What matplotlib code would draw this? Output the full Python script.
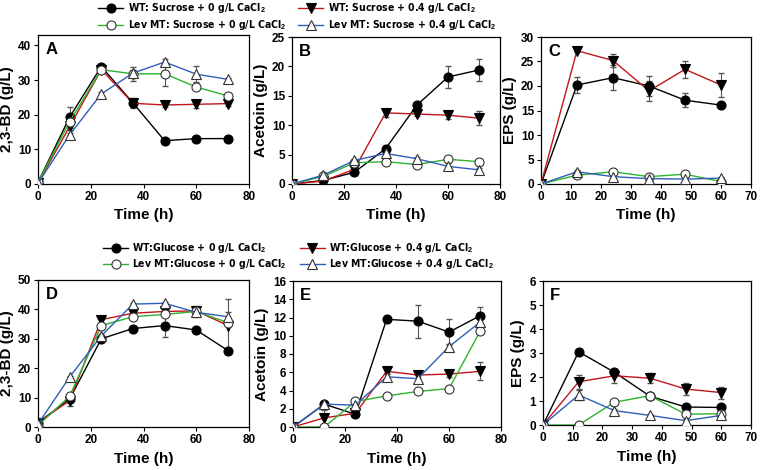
import numpy as np
import matplotlib
matplotlib.use("Agg")
import matplotlib.pyplot as plt
from matplotlib.font_manager import FontProperties

plt.rcParams['font.family'] = ['Liberation Sans', 'DejaVu Sans']
plt.rcParams['font.weight'] = 'bold'
plt.rcParams['mathtext.fontset'] = 'custom'
plt.rcParams['mathtext.rm'] = 'Liberation Sans:bold'
plt.rcParams['mathtext.bf'] = 'Liberation Sans:bold'

# time points
t72 = [0, 12, 24, 36, 48, 60, 72]
t60 = [0, 12, 24, 36, 48, 60]

# A: 2,3-BD sucrose
a_wt0 = [0.5, 19.3, 33.9, 23.4, 12.5, 13.1, 13.1]
a_wt0_err = [0, 3.0, 0.5, 1.5, 0.5, 0.5, 0.5]
a_wt4 = [0.3, 16.6, 33.0, 23.3, 22.8, 23.0, 23.2]
a_wt4_err = [0, 1.0, 0.5, 1.0, 0.7, 1.2, 0.7]
a_lev0 = [0.5, 18.0, 33.0, 31.8, 31.8, 28.0, 25.4]
a_lev0_err = [0, 1.5, 0.5, 2.0, 3.5, 1.0, 0.8]
a_lev4 = [0.2, 14.2, 26.0, 32.0, 35.2, 31.7, 30.2]
a_lev4_err = [0, 0.5, 0.5, 1.0, 1.0, 2.3, 0.5]

# B: acetoin sucrose
b_wt0 = [0, 0.6, 2.0, 6.0, 13.4, 18.2, 19.4]
b_wt0_err = [0, 0.2, 0.3, 0.5, 0.5, 1.8, 1.8]
b_wt4 = [0, 0.5, 2.5, 12.1, 11.9, 11.7, 11.2]
b_wt4_err = [0, 0.2, 0.3, 0.7, 0.4, 0.6, 1.2]
b_lev0 = [0, 1.3, 3.6, 3.8, 3.3, 4.2, 3.8]
b_lev0_err = [0, 0.2, 0.3, 0.3, 0.3, 0.3, 0.3]
b_lev4 = [0, 1.5, 4.0, 5.2, 4.3, 3.0, 2.4]
b_lev4_err = [0, 0.2, 0.3, 0.3, 0.3, 0.5, 0.3]

# C: EPS sucrose
c_wt0 = [0, 20.2, 21.7, 20.0, 17.1, 16.1]
c_wt0_err = [0, 1.6, 2.5, 2.0, 1.4, 0.5]
c_wt4 = [0, 27.2, 25.2, 19.0, 23.4, 20.2]
c_wt4_err = [0, 0.3, 1.4, 2.0, 1.8, 2.4]
c_lev0 = [0, 1.8, 2.5, 1.5, 2.0, 0.5]
c_lev0_err = [0, 0.3, 0.3, 0.3, 0.3, 0.2]
c_lev4 = [0, 2.5, 1.5, 1.1, 1.0, 1.2]
c_lev4_err = [0, 0.3, 0.3, 0.2, 0.2, 0.2]

# D: 2,3-BD glucose
d_wt0 = [1.5, 9.5, 30.0, 33.5, 34.5, 33.0, 26.0]
d_wt0_err = [0, 1.0, 1.0, 1.0, 4.0, 1.0, 1.0]
d_wt4 = [1.5, 9.0, 36.5, 38.7, 39.3, 39.5, 34.5]
d_wt4_err = [0, 2.0, 1.0, 1.0, 1.0, 1.5, 9.0]
d_lev0 = [0.5, 10.5, 34.5, 37.5, 38.3, 39.3, 35.5]
d_lev0_err = [0, 1.0, 1.0, 1.0, 1.0, 1.0, 1.0]
d_lev4 = [1.0, 17.0, 31.0, 41.8, 42.1, 39.0, 37.5]
d_lev4_err = [0, 0.5, 0.5, 0.5, 0.5, 1.5, 1.5]

# E: acetoin glucose
e_wt0 = [0, 2.5, 1.4, 11.8, 11.6, 10.4, 12.2]
e_wt0_err = [0, 0.2, 0.3, 0.3, 1.8, 1.4, 1.0]
e_wt4 = [0, 1.0, 1.5, 6.1, 5.7, 5.8, 6.1]
e_wt4_err = [0, 0.9, 0.2, 0.3, 0.3, 0.3, 1.0]
e_lev0 = [0, 0, 2.8, 3.4, 3.9, 4.2, 10.5]
e_lev0_err = [0, 0, 0.2, 0.2, 0.2, 0.2, 0.3]
e_lev4 = [0, 2.5, 2.4, 5.5, 5.3, 8.8, 11.5]
e_lev4_err = [0, 0.2, 0.2, 0.3, 0.4, 0.3, 0.4]

# F: EPS glucose
f_wt0 = [0, 3.05, 2.2, 1.2, 0.75, 0.73]
f_wt0_err = [0, 0.1, 0.15, 0.1, 0.05, 0.05]
f_wt4 = [0, 1.8, 2.05, 1.95, 1.5, 1.35]
f_wt4_err = [0, 0.3, 0.3, 0.2, 0.25, 0.25]
f_lev0 = [0, 0, 0.95, 1.22, 0.45, 0.47]
f_lev0_err = [0, 0, 0.05, 0.05, 0.05, 0.05]
f_lev4 = [0, 1.25, 0.6, 0.4, 0.18, 0.4]
f_lev4_err = [0, 0.2, 0.05, 0.05, 0.05, 0.05]

sucrose_labels = ['WT: Sucrose + 0 g/L CaCl$_2$', 'WT: Sucrose + 0.4 g/L CaCl$_2$',
                  'Lev MT: Sucrose + 0 g/L CaCl$_2$', 'Lev MT: Sucrose + 0.4 g/L CaCl$_2$']
glucose_labels = ['WT:Glucose + 0 g/L CaCl$_2$', 'WT:Glucose + 0.4 g/L CaCl$_2$',
                  'Lev MT:Glucose + 0 g/L CaCl$_2$', 'Lev MT:Glucose + 0.4 g/L CaCl$_2$']

styles = [
    dict(color='black', marker='o', mfc='black', mec='black'),
    dict(color='#c0161b', marker='v', mfc='black', mec='black'),
    dict(color='#2db32d', marker='o', mfc='white', mec='#333333'),
    dict(color='#2f5fb8', marker='^', mfc='white', mec='#333333'),
]

W, H = 760, 470


def rect(l, t, r, b):
    return [l / W, 1 - b / H, (r - l) / W, (b - t) / H]


fig = plt.figure(figsize=(7.6, 4.7), dpi=100)

panels = [
    ('A', rect(38, 35, 249, 184), t72, [(a_wt0, a_wt0_err), (a_wt4, a_wt4_err), (a_lev0, a_lev0_err), (a_lev4, a_lev4_err)],
     '2,3-BD (g/L)', (0, 80, 20), (0, 43, 10, 40)),
    ('B', rect(292, 37, 500, 184), t72, [(b_wt0, b_wt0_err), (b_wt4, b_wt4_err), (b_lev0, b_lev0_err), (b_lev4, b_lev4_err)],
     'Acetoin (g/L)', (0, 80, 20), (0, 25, 5, 25)),
    ('C', rect(541, 37, 751, 184), t60, [(c_wt0, c_wt0_err), (c_wt4, c_wt4_err), (c_lev0, c_lev0_err), (c_lev4, c_lev4_err)],
     'EPS (g/L)', (0, 70, 10), (0, 30, 5, 30)),
    ('D', rect(38, 280, 249, 427), t72, [(d_wt0, d_wt0_err), (d_wt4, d_wt4_err), (d_lev0, d_lev0_err), (d_lev4, d_lev4_err)],
     '2,3-BD (g/L)', (0, 80, 20), (0, 50, 10, 50)),
    ('E', rect(293, 281, 501, 427), t72, [(e_wt0, e_wt0_err), (e_wt4, e_wt4_err), (e_lev0, e_lev0_err), (e_lev4, e_lev4_err)],
     'Acetoin (g/L)', (0, 80, 20), (0, 16, 2, 16)),
    ('F', rect(543, 281, 751, 425), t60, [(f_wt0, f_wt0_err), (f_wt4, f_wt4_err), (f_lev0, f_lev0_err), (f_lev4, f_lev4_err)],
     'EPS (g/L)', (0, 70, 10), (0, 6, 1, 6)),
]

handles = {}
for letter, pos, t, series, ylab, xr, yr in panels:
    ax = fig.add_axes(pos)
    hs = []
    for (vals, errs), st in zip(series, styles):
        ax.errorbar(t, vals, yerr=errs, fmt='none', ecolor='#555555', elinewidth=0.8, capsize=2, zorder=2)
        h, = ax.plot(t, vals, color=st['color'], lw=1.0, marker=st['marker'], ms=6.5,
                     mfc=st['mfc'], mec=st['mec'], mew=0.8, zorder=3)
        hs.append(h)
    handles[letter] = hs
    ax.set_xlim(xr[0], xr[1])
    ax.set_ylim(yr[0], yr[1])
    ax.set_xticks(np.arange(xr[0], xr[1] + 0.1, xr[2]))
    ax.set_yticks(np.arange(yr[0], yr[3] + 0.01, yr[2]))
    ax.tick_params(direction='out', length=3, width=0.8, labelsize=8.5, pad=2)
    for lab in ax.get_xticklabels() + ax.get_yticklabels():
        lab.set_fontweight('bold')
    for sp in ax.spines.values():
        sp.set_linewidth(0.9)
    ax.set_xlabel('Time (h)', fontsize=11, fontweight='bold', labelpad=4)
    ax.set_ylabel(ylab, fontsize=11, fontweight='bold', labelpad=3)
    ax.text(0.035, 0.95, letter, transform=ax.transAxes, fontsize=12, fontweight='bold', va='top', ha='left')

leg_font = FontProperties(family='DejaVu Sans', weight='bold', stretch='condensed', size=7.5)
order = [0, 2, 1, 3]
fig.legend([handles['A'][i] for i in order], [sucrose_labels[i] for i in order],
           loc='upper left', bbox_to_anchor=(90 / W, 1 + 7 / H), ncol=2, frameon=False,
           prop=leg_font, handlelength=2.4, handletextpad=0.4, columnspacing=1.2,
           labelspacing=0.3, borderpad=0.3)
fig.legend([handles['D'][i] for i in order], [glucose_labels[i] for i in order],
           loc='upper left', bbox_to_anchor=(95 / W, 1 - 233 / H), ncol=2, frameon=False,
           prop=leg_font, handlelength=2.4, handletextpad=0.4, columnspacing=1.2,
           labelspacing=0.2, borderpad=0.3)

fig.savefig('out.png', dpi=100)
